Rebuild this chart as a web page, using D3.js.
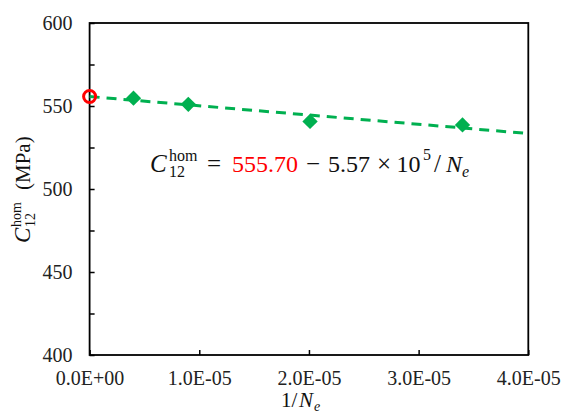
<!DOCTYPE html>
<html><head><meta charset="utf-8">
<script src="https://cdn.jsdelivr.net/npm/d3@7/dist/d3.min.js"></script>
<style>body{margin:0;background:#fff}svg{display:block}</style>
</head><body><svg id="c" width="561" height="414"></svg>
<script>
const xData = [4.0e-6, 9.0e-6, 2.01e-5, 3.40e-5];
const yData = [554.7, 551.0, 540.7, 538.6];
const extrapX = [0];
const extrapY = [555.70];
const fitIntercept = 555.70;
const fitSlope = -5.57e5;
const xTicks = [0, 1e-5, 2e-5, 3e-5, 4e-5];
const xTickLabels = ["0.0E+00", "1.0E-05", "2.0E-05", "3.0E-05", "4.0E-05"];
const yTicks = [400, 450, 500, 550, 600];
const yMinorTicks = [400, 425, 450, 475, 500, 525, 550, 575, 600];

const svg = d3.select("#c");
const L = 89.6, R = 528.3, T = 23, B = 355;
const x = d3.scaleLinear().domain([0, 4e-5]).range([L, R]);
const y = d3.scaleLinear().domain([400, 600]).range([B, T]);
const serif = "'Liberation Serif','Times New Roman',serif";

// frame
svg.append("rect").attr("x", L).attr("y", T).attr("width", R - L).attr("height", B - T)
  .attr("fill", "none").attr("stroke", "#000").attr("stroke-width", 1.8);

// x axis
const xa = svg.append("g").attr("transform", `translate(0,${B})`)
  .call(d3.axisBottom(x).tickValues(xTicks).tickSizeInner(-5).tickSizeOuter(0)
    .tickFormat((d, i) => xTickLabels[i]).tickPadding(16));
xa.select(".domain").remove();
xa.selectAll("line").attr("stroke", "#000").attr("stroke-width", 1.5);
xa.selectAll("text").attr("font-family", serif).attr("font-size", 20).attr("fill", "#222").attr("dy", "0.71em");

// y axis
const ya = svg.append("g").attr("transform", `translate(${L},0)`)
  .call(d3.axisLeft(y).tickValues(yMinorTicks).tickSizeInner(-5).tickSizeOuter(0)
    .tickFormat(d => yTicks.includes(d) ? String(d) : "").tickPadding(17));
ya.select(".domain").remove();
ya.selectAll("line").attr("stroke", "#000").attr("stroke-width", 1.5);
ya.selectAll("text").attr("font-family", serif).attr("font-size", 20).attr("fill", "#222");

// fit line
svg.append("line")
  .attr("x1", x(0)).attr("y1", y(fitIntercept))
  .attr("x2", x(4e-5)).attr("y2", y(fitIntercept + fitSlope * 4e-5))
  .attr("stroke", "#00B050").attr("stroke-width", 3).attr("stroke-dasharray", "10,7");

// data diamonds
svg.selectAll("path.pt").data(xData).enter().append("path")
  .attr("class", "pt")
  .attr("d", d3.symbol().type(d3.symbolDiamond2).size(150))
  .attr("transform", (d, i) => `translate(${x(d)},${y(yData[i])})`)
  .attr("fill", "#00B050");

// extrapolated point
svg.selectAll("circle.ex").data(extrapX).enter().append("circle")
  .attr("class", "ex")
  .attr("cx", d => x(d)).attr("cy", (d, i) => y(extrapY[i]))
  .attr("r", 6).attr("fill", "none").attr("stroke", "#FF0000").attr("stroke-width", 3);

function piece(g, txt, px, py, size, opts = {}) {
  const t = g.append("text").attr("x", px).attr("y", py).attr("font-size", size).text(txt);
  if (opts.italic) t.attr("font-style", "italic");
  if (opts.fill) t.attr("fill", opts.fill);
  return t;
}

// equation
const eq = svg.append("g").attr("font-family", serif).attr("fill", "#111");
piece(eq, "C", 150, 172, 25, {italic: true});
piece(eq, "hom", 169, 161, 16);
piece(eq, "12", 169, 177, 16);
piece(eq, "=", 207, 172, 25);
piece(eq, "555.70", 232, 172, 24, {fill: "#FF0000"});
piece(eq, "−", 306, 172, 25);
piece(eq, "5.57", 328, 172, 24);
piece(eq, "×", 377, 172, 25);
piece(eq, "10", 396.5, 172, 24);
piece(eq, "5", 423, 160, 16);
piece(eq, "/", 434, 172, 25);
piece(eq, "N", 446, 172, 24, {italic: true});
piece(eq, "e", 462, 177, 16, {italic: true});

// y title (rotated)
const yt = svg.append("g").attr("transform", "translate(30,0) rotate(-90)")
  .attr("font-family", serif).attr("fill", "#111");
piece(yt, "C", -243, 0, 23, {italic: true});
piece(yt, "hom", -227, -9, 14);
piece(yt, "12", -227, 5, 14);
piece(yt, "(MPa)", -190, 0, 21);

// x title
const xt = svg.append("g").attr("font-family", serif).attr("fill", "#111");
piece(xt, "1/", 281, 407, 21);
piece(xt, "N", 299, 407, 21, {italic: true});
piece(xt, "e", 314, 411, 14, {italic: true});
</script></body></html>
